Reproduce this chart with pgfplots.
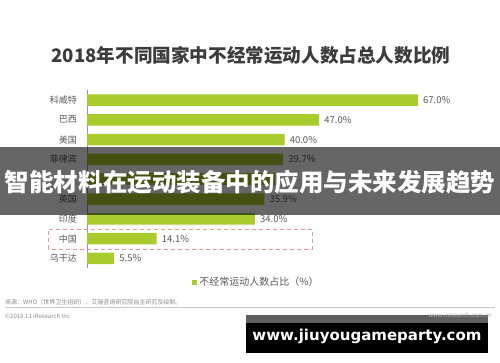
\documentclass[border=0pt]{standalone}
\usepackage{pgfplots}
\pgfplotsset{compat=1.18}
\usepackage{fontspec}
\setmainfont{Noto Sans CJK SC}
\newfontfamily\latinsans{DejaVu Sans}
\definecolor{barG}{RGB}{168,204,44}
\definecolor{titleC}{RGB}{60,60,60}
\definecolor{labC}{RGB}{90,90,90}
\definecolor{axisC}{RGB}{150,150,150}
\definecolor{dashC}{RGB}{232,150,155}
\definecolor{lineC}{RGB}{200,200,200}
\definecolor{srcC}{RGB}{140,140,140}
\definecolor{stripC}{RGB}{95,95,95}
\begin{document}
\begin{tikzpicture}[x=1pt,y=1pt]
\fill[white] (0,0) rectangle (500,362);
\useasboundingbox (0,0) rectangle (500,362);
\node[font=\fontsize{18.6}{20}\selectfont\bfseries, text=titleC] at (251,307) {2018年不同国家中不经常运动人数占总人数比例};
\begin{axis}[
  at={(87pt,93.7pt)}, anchor=south west,
  scale only axis, width=395.2pt, height=178.2pt,
  xmin=0, xmax=80, ymin=-0.5, ymax=8.5, y dir=reverse,
  xbar, bar width=11.5pt, bar shift=0pt,
  axis x line=none, axis y line=left,
  y axis line style={draw=axisC, line width=0.8pt, -},
  ytick={0,...,8},
  yticklabels={科威特,巴西,美国,菲律宾,{},英国,印度,中国,乌干达},
  major tick length=0pt,
  yticklabel style={font=\fontsize{9}{10}\selectfont, text=labC, inner sep=0pt, anchor=east},
  yticklabel shift=10pt,
  point meta=x,
  nodes near coords style={font=\fontsize{9.5}{10}\selectfont, text=labC, inner sep=0pt, anchor=west, xshift=5pt},
  /pgf/number format/assume math mode=true,
  legend style={at={(0.266,-0.077)}, anchor=west, draw=none, fill=none,
    font=\fontsize{10}{11}\selectfont, text=labC, inner sep=0pt},
  legend cell align=left,
  clip=false,
]
\addplot[fill=barG, draw=none,
  nodes near coords={\pgfmathprintnumber[fixed,fixed zerofill,precision=1]{\pgfplotspointmeta}\%},
  legend image code/.code={\fill[barG] (0pt,-2.5pt) rectangle (5pt,2.5pt);}]
  coordinates {(67.0,0) (47.0,1) (40.0,2) (39.7,3) (35.9,5) (34.0,6) (14.1,7) (5.5,8)};
\addlegendentry{不经常运动人数占比（\%）}
\addplot[fill=barG, draw=none, forget plot] coordinates {(38.0,4)};
\end{axis}
\draw[dashC, dash pattern=on 4pt off 3pt, line width=1pt] (48,113) rectangle (312,133);
\fill[black, opacity=0.6] (0,147) rectangle (500,215);
\node[text=white, font=\fontsize{24.5}{25}\selectfont\bfseries] at (250,180) {智能材料在运动装备中的应用与未来发展趋势};
\node[anchor=west, font=\fontsize{6}{7}\selectfont, text=srcC, inner sep=0pt] at (5,60) {来源：WHO（世界卫生组织），艾瑞咨询研究院自主研究及绘制。};
\draw[lineC, line width=0.8pt] (5,54.5) -- (495,54.5);
\node[anchor=west, font=\fontsize{6}{7}\selectfont, text=srcC, inner sep=0pt] at (5,46) {©2018.11 iResearch Inc};
\fill[stripC] (246,39) rectangle (488,47);
\fill[black] (246,9) rectangle (488,39);
\node[anchor=east, font=\fontsize{6}{7}\selectfont, text=srcC!70, inner sep=0pt] at (492,47) {www.iresearch.com.cn};
\node[text=white, font=\latinsans\bfseries\fontsize{15}{16}\selectfont] at (367,26) {www.jiuyougameparty.com};
\end{tikzpicture}
\end{document}
